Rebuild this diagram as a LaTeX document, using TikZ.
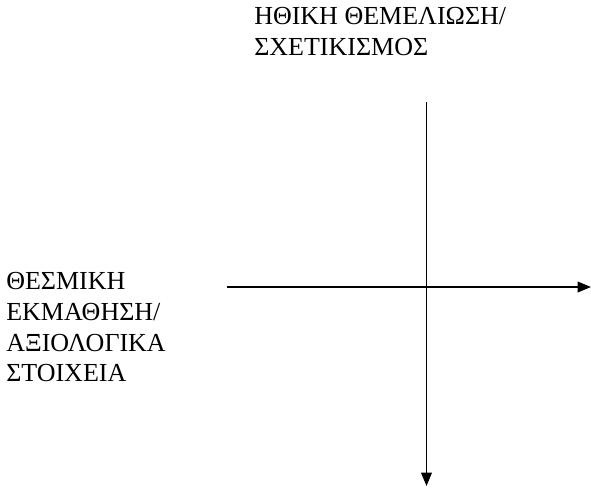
\documentclass[tikz,border=0pt]{standalone}
\usepackage{fontspec}
\setmainfont{Liberation Serif}
\usetikzlibrary{arrows.meta}

\begin{document}
\begin{tikzpicture}[x=0.75pt, y=-0.75pt,
  axislabel/.style={anchor=north west, inner sep=0pt, align=left,
    font=\fontsize{19.5}{23}\selectfont},
  axis/.style={-{Triangle[length=10pt, width=8pt]}, line width=1pt, black}]
  \useasboundingbox (0,0) rectangle (591,487);
  % axis labels
  \node[axislabel] (ethics) at (254,7.5) {ΗΘΙΚΗ ΘΕΜΕΛΙΩΣΗ/\\ΣΧΕΤΙΚΙΣΜΟΣ};
  \node[axislabel] (learning) at (6,272.5) {ΘΕΣΜΙΚΗ\\ΕΚΜΑΘΗΣΗ/\\ΑΞΙΟΛΟΓΙΚΑ\\ΣΤΟΙΧΕΙΑ};
  % axes
  \coordinate (vtop) at (426.5,102);
  \coordinate (vbot) at (426.5,486);
  \coordinate (hleft) at (227,287);
  \coordinate (hright) at (591,287);
  \draw[axis] (vtop) -- (vbot);
  \draw[axis] (hleft) -- (hright);
\end{tikzpicture}
\end{document}
